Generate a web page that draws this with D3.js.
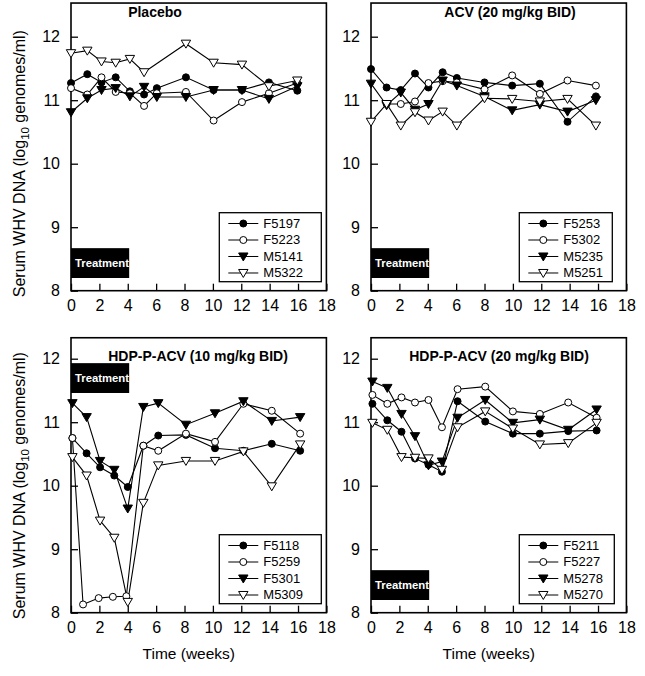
<!DOCTYPE html>
<html><head><meta charset="utf-8">
<script src="https://cdn.jsdelivr.net/npm/d3@7"></script>
<style>
body{margin:0;background:#fff}
svg{display:block}
text{font-family:"Liberation Sans", Arial, Helvetica, sans-serif;fill:#000}
</style>
</head><body><svg id="c" width="645" height="676"></svg>
<script>
// ---------------- data ----------------
const panelTitles = ["Placebo", "ACV (20 mg/kg BID)", "HDP-P-ACV (10 mg/kg BID)", "HDP-P-ACV (20 mg/kg BID)"];
const xTicks = [0, 2, 4, 6, 8, 10, 12, 14, 16, 18];
const yTicks = [8, 9, 10, 11, 12];
const yAxisTitle = "Serum WHV DNA (log";
const xAxisTitle = "Time (weeks)";
const treatmentLabel = "Treatment";
const treatmentWeeks = [0, 4.1];

// Placebo
const weeksPlacebo = [0, 1.15, 2.15, 3.15, 4.15, 5.15, 6.05, 8.1, 10.05, 12.05, 13.95, 15.95];
const idsPlacebo = ["F5197", "F5223", "M5141", "M5322"];
const placeboF5197 = [11.27, 11.41, 11.28, 11.36, 11.14, 11.09, 11.19, 11.36, 11.16, 11.16, 11.28, 11.15];
const placeboF5223 = [11.19, 11.09, 11.36, 11.13, 11.11, 10.91, 11.11, 11.13, 10.68, 10.97, 11.11, 11.27];
const placeboM5141 = [10.81, 11.03, 11.16, 11.19, 11.06, 11.21, 11.05, 11.05, 11.16, 11.16, 11.02, 11.22];
const placeboM5322 = [11.74, 11.78, 11.61, 11.59, 11.65, 11.44, null, 11.89, 11.59, 11.56, 11.22, 11.31];

// ACV 20 mg/kg BID
const weeksAcv = [0, 1.1, 2.1, 3.1, 4.05, 5.05, 6.05, 8.0, 9.95, 11.9, 13.85, 15.85];
const idsAcv = ["F5253", "F5302", "M5235", "M5251"];
const acvF5253 = [11.49, 11.2, 11.16, 11.42, 11.2, 11.44, 11.35, 11.28, 11.23, 11.26, 10.66, 11.06];
const acvF5302 = [null, 10.94, 10.94, 10.98, 11.27, 11.3, 11.28, 11.17, 11.39, 11.1, 11.31, 11.23];
const acvM5235 = [11.26, 10.92, 11.12, 10.85, 10.94, 11.31, 11.23, 11.06, 10.84, 10.93, 10.82, 11.0];
const acvM5251 = [10.66, 10.94, 10.6, 10.81, 10.68, 10.82, 10.6, 11.03, 11.02, 10.98, 11.02, 10.6];

// HDP-P-ACV 10 mg/kg BID
const weeksHdp10 = [0.1, 1.1, 2.05, 3.05, 4.0, 5.1, 6.15, 8.1, 10.15, 12.15, 14.15, 16.15];
const weeksHdp10F5259 = [0.1, 0.85, 1.95, 2.95, 3.9, 5.1, 6.15, 8.1, 10.15, 12.15, 14.15, 16.15];
const idsHdp10 = ["F5118", "F5259", "F5301", "M5309"];
const hdp10F5118 = [10.75, 10.51, 10.29, 10.16, 9.98, 10.63, 10.79, 10.8, 10.59, 10.55, 10.66, 10.55];
const hdp10F5259 = [10.75, 8.13, 8.23, 8.25, 8.26, 10.63, 10.55, 10.82, 10.69, 11.29, 11.18, 10.82];
const hdp10F5301 = [11.3, 11.08, 10.39, 10.25, 9.64, 11.24, 11.3, 10.96, 11.14, 11.33, 11.02, 11.08];
const hdp10M5309 = [10.45, 10.16, 9.45, 9.18, 8.17, 9.73, 10.32, 10.39, 10.39, 10.54, 9.99, 10.65];

// HDP-P-ACV 20 mg/kg BID
const weeksHdp20 = [0.1, 1.15, 2.15, 3.1, 4.05, 5.0, 6.1, 8.05, 10.0, 11.9, 13.9, 15.9];
const idsHdp20 = ["F5211", "F5227", "M5278", "M5270"];
const hdp20F5211 = [11.29, 11.03, 10.85, 10.43, 10.33, 10.22, 11.33, 11.01, 10.82, 10.82, 10.86, 10.87];
const hdp20F5227 = [11.43, 11.29, 11.39, 11.31, 11.35, 10.92, 11.52, 11.56, 11.17, 11.13, 11.31, 11.07];
const hdp20M5278 = [11.64, 11.54, 11.13, 10.78, 10.32, 10.38, 11.07, 11.35, 10.99, 11.04, 10.88, 11.2];
const hdp20M5270 = [10.99, 10.88, 10.45, 10.44, 10.43, 10.25, 10.92, 11.17, 10.9, 10.65, 10.67, 10.99];

// ---------------- layout ----------------
const panels = [
  {title: panelTitles[0], ids: idsPlacebo, weeks: [weeksPlacebo, weeksPlacebo, weeksPlacebo, weeksPlacebo],
   values: [placeboF5197, placeboF5223, placeboM5141, placeboM5322],
   x0: 71, y8: 290.7, yMax: 12.53, titleDy: 20, titleX: 84, legW: 102, treatY: "bottom"},
  {title: panelTitles[1], ids: idsAcv, weeks: [weeksAcv, weeksAcv, weeksAcv, weeksAcv],
   values: [acvF5253, acvF5302, acvM5235, acvM5251],
   x0: 371, y8: 290.7, yMax: 12.53, titleDy: 20, titleX: 139, legW: 93, treatY: "bottom"},
  {title: panelTitles[2], ids: idsHdp10, weeks: [weeksHdp10, weeksHdp10F5259, weeksHdp10, weeksHdp10],
   values: [hdp10F5118, hdp10F5259, hdp10F5301, hdp10M5309],
   x0: 71, y8: 612.7, yMax: 12.33, titleDy: -2, titleX: 127, legW: 102, treatY: "top"},
  {title: panelTitles[3], ids: idsHdp20, weeks: [weeksHdp20, weeksHdp20, weeksHdp20, weeksHdp20],
   values: [hdp20F5211, hdp20F5227, hdp20M5278, hdp20M5270],
   x0: 371, y8: 612.7, yMax: 12.33, titleDy: -2, titleX: 128, legW: 95, treatY: "bottom"}
];
const markerStyles = [
  {shape: "circle", fill: "#000"},
  {shape: "circle", fill: "#fff"},
  {shape: "tri", fill: "#000"},
  {shape: "tri", fill: "#fff"}
];

const W = 255.4, unit = 63.5;
const FONT = '"Liberation Sans", Arial, sans-serif';
const svg = d3.select("#c");
svg.append("rect").attr("width", 645).attr("height", 676).attr("fill", "#fff");

function drawMarker(g, style, cx, cy) {
  if (style.shape === "circle") {
    g.append("circle").attr("cx", cx).attr("cy", cy).attr("r", 3.5)
      .attr("fill", style.fill).attr("stroke", "#000").attr("stroke-width", 1);
  } else {
    const s = 4.7;
    g.append("path")
      .attr("d", `M${cx - s},${cy - s * 0.75}L${cx + s},${cy - s * 0.75}L${cx},${cy + s * 0.95}Z`)
      .attr("fill", style.fill).attr("stroke", "#000").attr("stroke-width", 1);
  }
}

panels.forEach((p, pi) => {
  const H = (p.yMax - 8) * unit;
  const g = svg.append("g").attr("transform", `translate(${p.x0},${p.y8 - H})`);
  const x = d3.scaleLinear().domain([0, 18]).range([0, W]);
  const y = d3.scaleLinear().domain([8, p.yMax]).range([H, 0]);

  // axes (ticks inward)
  const ya = g.append("g").call(d3.axisLeft(y).tickValues(yTicks).tickSize(-7).tickPadding(11).tickFormat(d3.format("d")));
  ya.select(".domain").remove();
  ya.selectAll("line").attr("stroke", "#000").attr("stroke-width", 1.3);
  ya.selectAll("text").attr("font-size", 16).attr("font-family", FONT);
  const xa = g.append("g").attr("transform", `translate(0,${H})`)
    .call(d3.axisBottom(x).tickValues(xTicks).tickSize(-7).tickPadding(9).tickFormat(d3.format("d")));
  xa.select(".domain").remove();
  xa.selectAll("line").attr("stroke", "#000").attr("stroke-width", 1.3);
  xa.selectAll("text").attr("font-size", 16).attr("font-family", FONT);

  // frame
  g.append("rect").attr("x", 0).attr("y", 0).attr("width", W).attr("height", H)
    .attr("fill", "none").attr("stroke", "#000").attr("stroke-width", 1.6);

  // treatment box
  const tv = p.treatY === "top" ? [11.93, 11.46] : [8.67, 8.2];
  const tb = g.append("g");
  tb.append("rect").attr("x", x(treatmentWeeks[0])).attr("y", y(tv[0]))
    .attr("width", x(treatmentWeeks[1]) - x(treatmentWeeks[0])).attr("height", y(tv[1]) - y(tv[0]))
    .attr("fill", "#000");
  tb.append("text").attr("x", x(treatmentWeeks[0]) + 4).attr("y", (y(tv[0]) + y(tv[1])) / 2 + 4)
    .attr("font-size", 11.3).attr("font-weight", "bold").style("fill", "#fff").text(treatmentLabel);

  // title
  g.append("text").attr("x", p.titleX).attr("y", y(12) - p.titleDy).attr("text-anchor", "middle")
    .attr("font-size", 14).attr("font-weight", "bold").text(p.title);

  // lines
  const lineGen = d3.line().x(d => x(d[0])).y(d => y(d[1]));
  p.values.forEach((vals, si) => {
    const pts = vals.map((v, i) => [p.weeks[si][i], v]).filter(d => d[1] != null);
    g.append("path").datum(pts).attr("d", lineGen)
      .attr("fill", "none").attr("stroke", "#000").attr("stroke-width", 1.1);
  });
  // markers
  p.values.forEach((vals, si) => {
    const mg = g.append("g");
    vals.forEach((v, i) => { if (v != null) drawMarker(mg, markerStyles[si], x(p.weeks[si][i]), y(v)); });
  });

  // legend
  const lx = 148.3, lw = p.legW, lh = 69, ly = H - 9 - lh;
  const lg = g.append("g").attr("transform", `translate(${lx},${ly})`);
  lg.append("rect").attr("width", lw).attr("height", lh).attr("fill", "#fff")
    .attr("stroke", "#000").attr("stroke-width", 1.3);
  p.ids.forEach((id, si) => {
    const cy = 10.8 + si * 16.5;
    lg.append("line").attr("x1", 9).attr("x2", 39).attr("y1", cy).attr("y2", cy)
      .attr("stroke", "#000").attr("stroke-width", 1);
    drawMarker(lg, markerStyles[si], 24, cy);
    lg.append("text").attr("x", 44).attr("y", cy + 4.5).attr("font-size", 13).text(id);
  });

  // y axis title (left column only)
  if (pi % 2 === 0) {
    const cy = p.y8 - 2 * unit;
    const t = svg.append("text").attr("transform", `translate(25,${cy}) rotate(-90)`)
      .attr("text-anchor", "middle").attr("font-size", 16);
    t.append("tspan").text(yAxisTitle);
    t.append("tspan").attr("font-size", 11.5).attr("dy", 4).text("10");
    t.append("tspan").attr("dy", -4).text(" genomes/ml)");
  }
  // x axis title (bottom row only)
  if (pi >= 2) {
    svg.append("text").attr("x", p.x0 + x(8.3)).attr("y", 659).attr("text-anchor", "middle")
      .attr("font-size", 15.5).text(xAxisTitle);
  }
});
</script></body></html>
